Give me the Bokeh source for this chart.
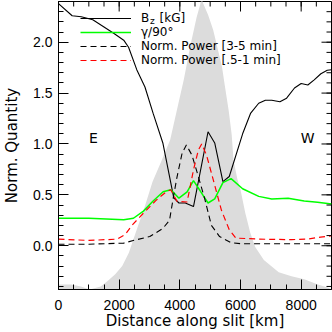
import numpy as np
from bokeh.plotting import figure
from bokeh.models import (Legend, LegendItem, Label, SingleIntervalTicker,
                          Range1d, PrintfTickFormatter)
from bokeh.embed import file_html
from bokeh.resources import INLINE
from bokeh.core.properties import value

# ---------------- data ----------------
intensity_x = [0, 420, 740, 1030, 1390, 1610, 1870, 2100, 2320, 2580, 2840,
               3100, 3390, 3680, 3900, 4130, 4350, 4550, 4680, 4720, 4770,
               4930, 5100, 5260, 5390, 5480, 5610, 5710, 5770, 5900, 6000,
               6160, 6320, 6480, 6770, 7260, 7680, 8100, 8550, 8870, 9000]
intensity = [-0.38, -0.38, -0.40, -0.43, -0.40, -0.35, -0.28, -0.20, -0.07,
             0.16, 0.38, 0.63, 0.83, 1.04, 1.33, 1.63, 1.97, 2.24, 2.38,
             2.45, 2.38, 2.27, 2.12, 1.92, 1.76, 1.58, 1.33, 1.09, 0.84,
             0.65, 0.55, 0.32, 0.13, -0.01, -0.14, -0.26, -0.30, -0.33,
             -0.38, -0.41, -0.43]

bz_x = [0, 450, 750, 1130, 1500, 1830, 2150, 2310, 2580, 2850, 3120, 3440,
        3800, 3970, 4180, 4450, 4930, 5150, 5420, 5630, 6070, 6330, 6600,
        6820, 7030, 7300, 7520, 7780, 8000, 8220, 8430, 8650, 8860, 9000]
bz = [2.38, 2.26, 2.25, 2.22, 2.15, 2.085, 2.02, 1.95, 1.73, 1.56, 1.30,
      1.01, 0.47, 0.42, 0.42, 0.385, 1.12, 1.01, 0.63, 0.68, 1.10, 1.30,
      1.40, 1.43, 1.43, 1.415, 1.45, 1.55, 1.595, 1.58, 1.63, 1.69, 1.725,
      1.73]

gamma_x = [0, 1000, 2150, 2470, 2800, 3120, 3450, 3700, 3800, 3970, 4240,
           4450, 4670, 4930, 5150, 5420, 5690, 6070, 6600, 7030, 7570, 8100,
           8540, 9000]
gamma = [0.27, 0.27, 0.255, 0.27, 0.34, 0.44, 0.53, 0.55, 0.52, 0.467, 0.53,
         0.64, 0.54, 0.42, 0.46, 0.62, 0.66, 0.56, 0.485, 0.46, 0.467, 0.44,
         0.428, 0.41]

pow35_x = [0, 1000, 2150, 2580, 3010, 3440, 3660, 3800, 3910, 4075, 4215,
           4400, 4610, 4830, 5040, 5310, 5690, 6000, 9000]
pow35 = [0.015, 0.015, 0.026, 0.06, 0.09, 0.17, 0.25, 0.5, 0.68, 0.91, 0.99,
         0.89, 0.68, 0.45, 0.2, 0.09, 0.03, 0.02, 0.02]

pow051_x = [0, 1000, 1930, 2200, 2420, 2800, 3230, 3550, 3700, 3910, 4240,
            4450, 4610, 4720, 4880, 5100, 5370, 5630, 5850, 6600, 7680, 8210,
            8640, 9000]
pow051 = [0.065, 0.052, 0.065, 0.11, 0.2, 0.32, 0.45, 0.53, 0.55, 0.435,
          0.43, 0.745, 0.94, 1.0, 0.89, 0.65, 0.35, 0.157, 0.075, 0.065,
          0.06, 0.065, 0.085, 0.098]

legend_labels = ["B", "\u03b3/90\u00b0", "Norm. Power [3-5 min]",
                 "Norm. Power [.5-1 min]"]
x_label = "Distance along slit [km]"
y_label = "Norm. Quantity"
X_MIN, X_MAX = 0, 9000
Y_MIN, Y_MAX = -0.43, 2.40
X_MAJOR, X_MINOR = 2000, 500
Y_MAJOR, Y_MINOR = 0.5, 0.1

FONT = "DejaVu Sans"
TICK_FONT = "Liberation Sans"

p = figure(width=332, height=332, output_backend="svg", toolbar_location=None,
           x_range=Range1d(X_MIN, X_MAX), y_range=Range1d(Y_MIN, Y_MAX),
           min_border_left=52, min_border_right=1, min_border_top=1,
           min_border_bottom=42, x_axis_label=x_label, y_axis_label=y_label)
p.grid.visible = False
p.outline_line_color = "black"
p.outline_line_width = 1
p.background_fill_color = "white"
p.border_fill_color = "white"

p.varea(x=intensity_x, y1=intensity, y2=Y_MIN - 1, fill_color="#dcdcdc")
r_bz = p.line(bz_x, bz, line_color="black", line_width=1.1)
r_g = p.line(gamma_x, gamma, line_color="#00ff00", line_width=1.5)
r_p35 = p.line(pow35_x, pow35, line_color="black", line_width=1.1,
               line_dash="6 4")
r_p051 = p.line(pow051_x, pow051, line_color="#ff0000", line_width=1.2,
                line_dash="6 4")


def style(ax):
    ax.axis_line_color = "black"
    ax.axis_line_width = 1
    ax.major_tick_in = 10
    ax.major_tick_out = 0
    ax.minor_tick_in = 5
    ax.minor_tick_out = 0
    ax.major_tick_line_color = "black"
    ax.minor_tick_line_color = "black"
    ax.major_label_text_font = TICK_FONT
    ax.major_label_text_font_size = "14px"
    ax.major_label_text_color = "black"
    ax.axis_label_text_font = FONT
    ax.axis_label_text_font_size = "15px"
    ax.axis_label_text_font_style = "normal"
    ax.axis_label_text_color = "black"


xa = p.xaxis[0]
xa.ticker = SingleIntervalTicker(interval=X_MAJOR, num_minor_ticks=4)
style(xa)
xa.major_label_standoff = 10
xa.axis_label_standoff = -1

ya = p.yaxis[0]
ya.ticker = SingleIntervalTicker(interval=Y_MAJOR, num_minor_ticks=5)
ya.formatter = PrintfTickFormatter(format="%.1f")
style(ya)
ya.major_label_standoff = 6
ya.axis_label_standoff = 9

# inward ticks on the top and right edges (half of each dash is clipped)
top_major = np.arange(X_MIN, X_MAX + 1, X_MAJOR)
top_minor = np.arange(X_MIN, X_MAX + 1, X_MINOR)
right_major = np.round(np.arange(0.0, Y_MAX, Y_MAJOR), 3)
right_minor = np.round(np.arange(-0.4, Y_MAX, Y_MINOR), 3)
p.scatter(top_minor, np.full(len(top_minor), Y_MAX), marker="dash", size=10,
          angle=np.pi / 2, line_color="black", line_width=1)
p.scatter(top_major, np.full(len(top_major), Y_MAX), marker="dash", size=20,
          angle=np.pi / 2, line_color="black", line_width=1)
p.scatter(np.full(len(right_minor), X_MAX), right_minor, marker="dash",
          size=10, line_color="black", line_width=1)
p.scatter(np.full(len(right_major), X_MAX), right_major, marker="dash",
          size=20, line_color="black", line_width=1)

# legend: one Legend per row for exact row placement
row_from_bottom = [263.5, 249.5, 235.5, 221.5]
for r, lab, vy in zip([r_bz, r_g, r_p35, r_p051], legend_labels,
                      row_from_bottom):
    leg = Legend(items=[LegendItem(label=value(lab), renderers=[r])],
                 location=(22, vy), padding=0, margin=0, spacing=0,
                 glyph_width=51, glyph_height=16, label_height=16,
                 label_standoff=10, background_fill_alpha=0,
                 border_line_color=None, label_text_font=FONT,
                 label_text_font_size="12px", label_text_color="black")
    p.add_layout(leg)

p.add_layout(Label(x=91.5, y=268.5, x_units="screen", y_units="screen",
                   text="z", text_font=FONT, text_font_size="9px",
                   text_baseline="middle", text_color="black"))
p.add_layout(Label(x=101, y=271.5, x_units="screen", y_units="screen",
                   text="[kG]", text_font=FONT, text_font_size="12px",
                   text_baseline="middle", text_color="black"))

p.add_layout(Label(x=1150, y=1.06, text="E", text_font=FONT,
                   text_font_size="14px", text_align="center",
                   text_baseline="middle", text_color="black"))
p.add_layout(Label(x=8215, y=1.06, text="W", text_font=FONT,
                   text_font_size="14px", text_align="center",
                   text_baseline="middle", text_color="black"))

open("out.html", "w").write(file_html(p, INLINE))
